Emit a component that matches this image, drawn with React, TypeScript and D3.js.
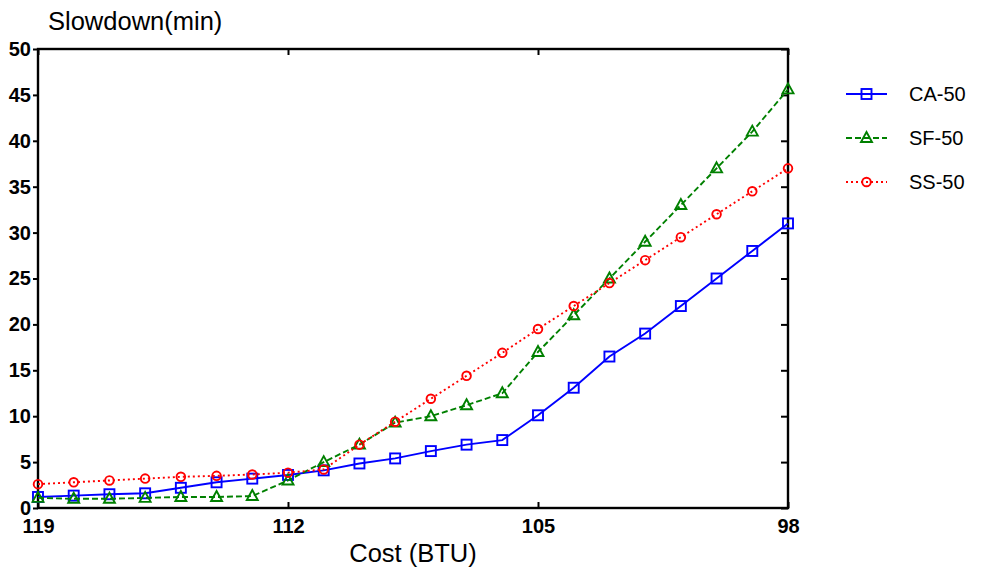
import React, { useEffect, useRef } from 'react';
import * as d3 from 'd3';

// cost on the x axis runs from 119 down to 98
const costs = [119, 118, 117, 116, 115, 114, 113, 112, 111, 110, 109, 108, 107, 106, 105, 104, 103, 102, 101, 100, 99, 98];
const caValues = [1.2, 1.35, 1.5, 1.6, 2.2, 2.8, 3.2, 3.6, 4.1, 4.85, 5.4, 6.2, 6.9, 7.4, 10.1, 13.1, 16.5, 19, 22, 25, 28, 31];
const sfValues = [1.1, 1.0, 1.0, 1.1, 1.2, 1.2, 1.3, 3.0, 5.0, 6.9, 9.3, 10, 11.2, 12.5, 17, 21, 25, 29, 33, 37, 41, 45.6];
const ssValues = [2.6, 2.8, 3.0, 3.2, 3.4, 3.5, 3.65, 3.85, 4.2, 6.9, 9.4, 11.9, 14.4, 16.9, 19.5, 22, 24.5, 27, 29.5, 32, 34.5, 37];
const xTicks = [119, 112, 105, 98];
const yTicks = [0, 5, 10, 15, 20, 25, 30, 35, 40, 45, 50];
const seriesNames = ['CA-50', 'SF-50', 'SS-50'];

const W = 982, H = 569;
const margin = { left: 38, right: 194, top: 49, bottom: 61 };

export default function App() {
  const ref = useRef<SVGSVGElement>(null);

  useEffect(() => {
    const svg = d3.select(ref.current);
    svg.selectAll('*').remove();

    const x = d3.scaleLinear().domain([119, 98]).range([margin.left, W - margin.right]);
    const y = d3.scaleLinear().domain([0, 50]).range([H - margin.bottom, margin.top]);

    const series = [
      { name: seriesNames[0], values: caValues, color: '#0000ff', dash: null, marker: 'square' },
      { name: seriesNames[1], values: sfValues, color: '#008000', dash: '6,3', marker: 'triangle' },
      { name: seriesNames[2], values: ssValues, color: '#ff0000', dash: '2,3', marker: 'circle' },
    ];

    const font = 'Liberation Sans, Arial, sans-serif';

    // frame
    svg.append('rect')
      .attr('x', margin.left).attr('y', margin.top)
      .attr('width', W - margin.left - margin.right)
      .attr('height', H - margin.top - margin.bottom)
      .attr('fill', 'none').attr('stroke', '#000').attr('stroke-width', 2.4);

    // left axis, ticks outward
    const gl = svg.append('g')
      .attr('transform', `translate(${margin.left},0)`)
      .call(d3.axisLeft(y).tickValues(yTicks).tickSize(5).tickPadding(2).tickFormat(d3.format('d')));
    // bottom axis, ticks inward
    const gb = svg.append('g')
      .attr('transform', `translate(0,${H - margin.bottom})`)
      .call(d3.axisBottom(x).tickValues(xTicks).tickSizeInner(-6).tickSizeOuter(0).tickPadding(11).tickFormat(d3.format('d')));
    // top and right, inward ticks, no labels
    const gt = svg.append('g')
      .attr('transform', `translate(0,${margin.top})`)
      .call(d3.axisBottom(x).tickValues(xTicks).tickSizeInner(6).tickSizeOuter(0).tickFormat(() => ''));
    const gr = svg.append('g')
      .attr('transform', `translate(${W - margin.right},0)`)
      .call(d3.axisLeft(y).tickValues(yTicks).tickSizeInner(7).tickSizeOuter(0).tickFormat(() => ''));

    [gl, gb, gt, gr].forEach(g => {
      g.select('.domain').remove();
      g.selectAll('line').attr('stroke', '#000').attr('stroke-width', 2);
      g.selectAll('text')
        .attr('font-family', font).attr('font-size', 20).attr('font-weight', 'bold').attr('fill', '#000');
    });
    gl.selectAll('text').attr('dy', '0.32em');

    const line = d3.line<number>()
      .x((d, i) => x(costs[i]))
      .y(d => y(d));

    const drawMarker = (g: any, mk: string, color: string, cx: number, cy: number) => {
      if (mk === 'square') {
        g.append('rect').attr('x', cx - 5).attr('y', cy - 5).attr('width', 10).attr('height', 10)
          .attr('fill', 'none').attr('stroke', color).attr('stroke-width', 1.9);
      } else if (mk === 'triangle') {
        g.append('path').attr('d', `M${cx},${cy - 6}L${cx + 5.5},${cy + 4}L${cx - 5.5},${cy + 4}Z`)
          .attr('fill', 'none').attr('stroke', color).attr('stroke-width', 1.9);
      } else {
        g.append('circle').attr('cx', cx).attr('cy', cy).attr('r', 4.3)
          .attr('fill', 'none').attr('stroke', color).attr('stroke-width', 1.9);
      }
    };

    series.forEach(s => {
      const g = svg.append('g');
      g.append('path')
        .attr('d', line(s.values))
        .attr('fill', 'none')
        .attr('stroke', s.color)
        .attr('stroke-width', 1.9)
        .attr('stroke-dasharray', s.dash);
      s.values.forEach((v, i) => drawMarker(g, s.marker, s.color, x(costs[i]), y(v)));
    });

    // legend
    const legendY = d3.scalePoint<string>().domain(seriesNames).range([94, 182]);
    series.forEach(s => {
      const g = svg.append('g');
      const ly = legendY(s.name)!;
      g.append('line').attr('x1', 846).attr('x2', 887).attr('y1', ly).attr('y2', ly)
        .attr('stroke', s.color).attr('stroke-width', 1.9).attr('stroke-dasharray', s.dash);
      drawMarker(g, s.marker, s.color, 866.5, ly);
      g.append('text').attr('x', 909).attr('y', ly).attr('dy', '0.36em')
        .attr('font-family', font).attr('font-size', 20).attr('fill', '#000').text(s.name);
    });

    // titles
    svg.append('text').attr('x', 48).attr('y', 30)
      .attr('font-family', font).attr('font-size', 25.5).attr('fill', '#000').text('Slowdown(min)');
    svg.append('text').attr('x', 413).attr('y', 562).attr('text-anchor', 'middle')
      .attr('font-family', font).attr('font-size', 25.5).attr('fill', '#000').text('Cost (BTU)');
  }, []);

  return (
    <svg ref={ref} width={W} height={H}
      style={{ position: 'absolute', left: 0, top: 0, background: '#fff' }} />
  );
}
